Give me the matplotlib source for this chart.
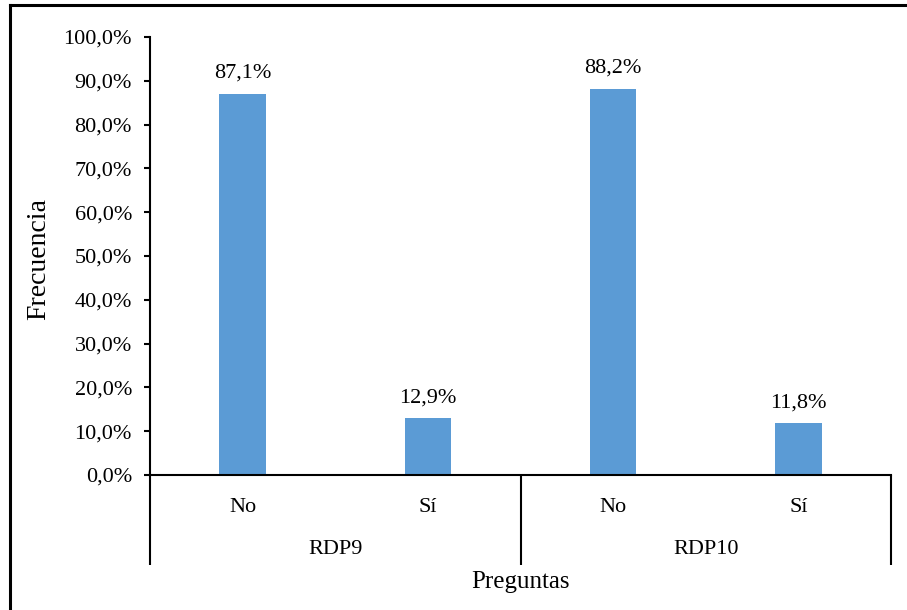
import matplotlib
matplotlib.use("Agg")
import matplotlib.pyplot as plt
from matplotlib.lines import Line2D

# Datos de las preguntas
grupos = ["RDP9", "RDP10"]
respuestas = ["No", "Sí", "No", "Sí"]
frecuencias = [87.1, 12.9, 88.2, 11.8]
yticks = [0, 10, 20, 30, 40, 50, 60, 70, 80, 90, 100]

plt.rcParams['font.family'] = ['Liberation Serif', 'DejaVu Serif']

fig = plt.figure(figsize=(9.07, 6.10), dpi=100)
W, H = 907, 610
ax_l, ax_r, ax_t, ax_b = 150, 891, 37, 475
ax = fig.add_axes([ax_l / W, 1 - ax_b / H, (ax_r - ax_l) / W, (ax_b - ax_t) / H])

x = list(range(len(frecuencias)))
ax.bar(x, frecuencias, width=0.25, color="#5B9BD5", zorder=2)

for xi, v in zip(x, frecuencias):
    ax.annotate(f"{v:.1f}%".replace(".", ","), (xi, v), xytext=(0, 8),
                textcoords="offset points", ha="center", va="bottom", fontsize=16)

ax.set_xlim(-0.5, len(frecuencias) - 0.5)
ax.set_ylim(0, 100)
ax.set_yticks(yticks)
ax.set_yticklabels([f"{t:.1f}%".replace(".", ",") for t in yticks], fontsize=16)
ax.tick_params(axis="y", direction="out", length=4, width=1.5, pad=9)
ax.set_xticks([])

for s in ["top", "right"]:
    ax.spines[s].set_visible(False)
ax.spines["left"].set_linewidth(1.5)
ax.spines["bottom"].set_linewidth(1.5)

# Eje de categorías en dos niveles
ax_h = ax_b - ax_t
trans = ax.get_xaxis_transform()
y_fin = -(565 - ax_b) / ax_h
for xs in [-0.5, 1.5, 3.5]:
    ax.plot([xs, xs], [0, y_fin], transform=trans, color="black", lw=1.5,
            clip_on=False, solid_capstyle="butt")

for xi, r in zip(x, respuestas):
    ax.text(xi, -(507 - ax_b) / ax_h, r, transform=trans, ha="center",
            va="center", fontsize=16)
for i, g in enumerate(grupos):
    ax.text(2 * i + 0.5, -(550 - ax_b) / ax_h, g, transform=trans, ha="center",
            va="center", fontsize=16)

fig.text((ax_l + ax_r) / 2 / W, 1 - 582 / H, "Preguntas", ha="center",
         va="center", fontsize=18)
fig.text(39 / W, 1 - 259 / H, "Frecuencia", ha="center", va="center",
         rotation=90, fontsize=20)

# Marco del gráfico (solo borde superior e izquierdo)
fig.add_artist(Line2D([10 / W, 10 / W], [0, 1 - 5 / H], color="black", lw=2.2,
                      transform=fig.transFigure))
fig.add_artist(Line2D([10 / W, 1], [1 - 5 / H, 1 - 5 / H], color="black", lw=2.2,
                      transform=fig.transFigure))

fig.savefig("out.png", dpi=100)
